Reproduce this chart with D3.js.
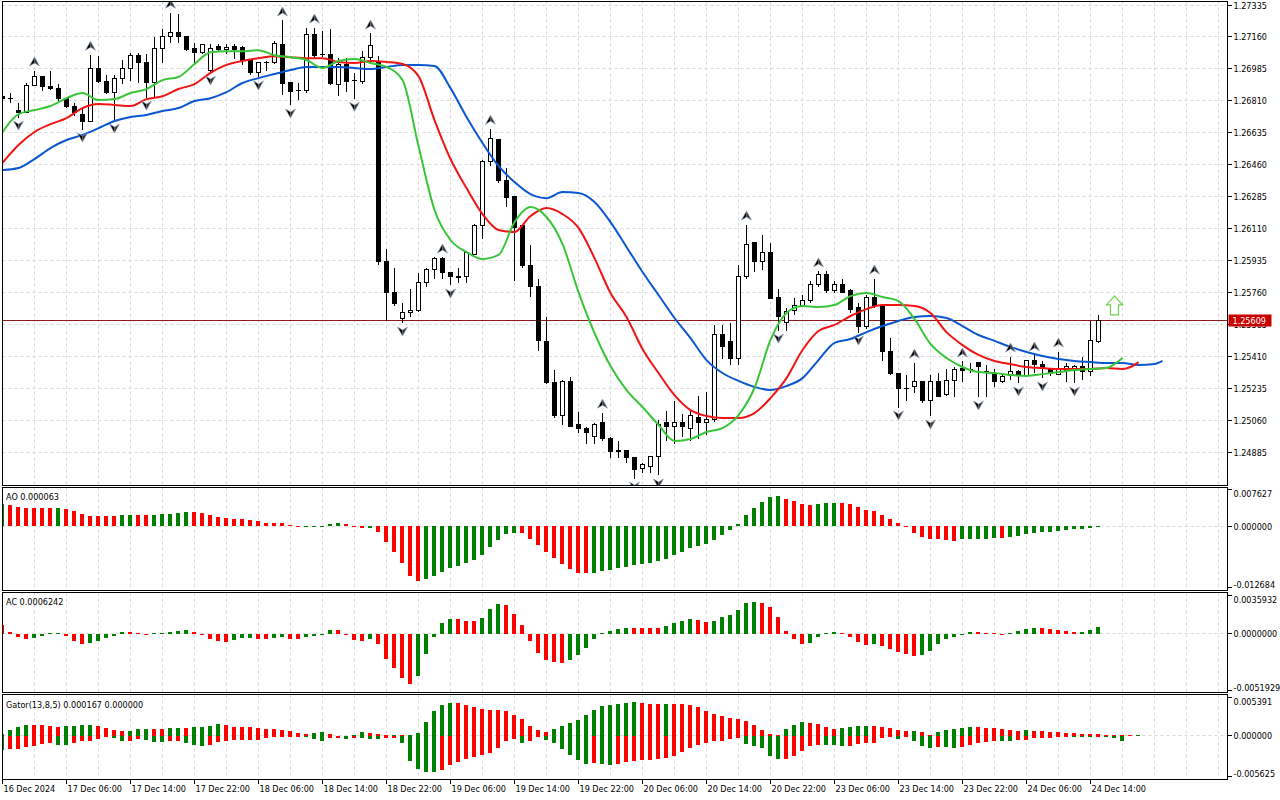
<!DOCTYPE html>
<html><head><meta charset="utf-8">
<script src="https://cdn.jsdelivr.net/npm/d3@7/dist/d3.min.js"></script>
<style>
html,body{margin:0;padding:0;background:#fff}
svg{display:block}
text{font-family:'DejaVu Sans Condensed','DejaVu Sans',sans-serif;font-stretch:condensed;font-size:9px;fill:#000}
</style>
</head><body>
<svg id="chart" width="1280" height="800"></svg>
<script>
// ---------- DATA (prices in points = price * 100000) ----------
// [open, high, low, close] per H1 bar
const candles = [
[126836,126847,126815,126825],[126826,126858,126799,126825],[126760,126804,126722,126749],[126749,126913,126744,126897],
[126897,126979,126896,126941],[126941,126942,126869,126891],[126891,126974,126875,126880],[126880,126908,126815,126825],
[126825,126831,126776,126777],[126777,126804,126733,126744],[126738,126777,126656,126700],[126700,127066,126699,126985],
[126985,127060,126913,126919],[126919,126952,126853,126858],[126858,126952,126705,126935],[126935,127039,126908,126990],
[126990,127077,126924,127060],[127060,127077,126913,127018],[127018,127071,126831,126913],[126913,127160,126831,127099],
[127099,127209,127018,127160],[127160,127296,127132,127187],[127187,127290,127132,127160],[127160,127161,127088,127094],
[127099,127132,127023,127077],[127077,127127,127071,127121],[126974,127127,126968,127099],[127110,127127,127088,127094],
[127094,127127,127071,127105],[127110,127127,127044,127094],[127105,127116,127007,127034],[127034,127044,126957,126963],
[126963,127023,126941,127018],[127023,127034,126979,127022],[127018,127143,127017,127127],[127121,127253,126847,126908],
[126913,126914,126788,126864],[126869,126913,126820,126868],[126869,127214,126858,127171],[127171,127214,127049,127060],
[127066,127198,127055,127065],[127066,127204,126902,126908],[126902,127049,126842,127007],[127007,127049,126864,126919],
[126924,126963,126825,126923],[126919,127088,126908,127049],[127049,127182,127034,127116],[127023,127060,125917,125934],
[125934,126000,125611,125759],[125759,125901,125693,125704],[125622,125709,125595,125650],[125650,125786,125628,125661],
[125661,125869,125660,125814],[125814,125896,125797,125890],[125890,125956,125841,125950],[125950,125956,125836,125869],
[125869,125874,125803,125847],[125847,125896,125819,125846],[125847,125994,125819,125978],[125972,126142,125971,126131],
[126131,126487,126055,126476],[126476,126661,126454,126607],[126601,126602,126361,126377],[126377,126443,126235,126284],
[126289,126295,125830,126120],[126131,126136,125901,125912],[125912,126022,125738,125792],[125797,125841,125447,125497],
[125491,125628,125261,125267],[125267,125343,125075,125091],[125091,125283,125037,125272],[125272,125300,125026,125031],
[125037,125113,124993,125020],[125020,125026,124938,124998],[124971,125053,124938,125042],[125053,125107,124954,124960],
[124960,124971,124856,124889],[124895,124954,124856,124894],[124895,124900,124829,124856],[124861,124862,124746,124795],
[124801,124829,124774,124818],[124812,124867,124774,124862],[124862,125069,124763,125042],[125048,125118,124954,125026],
[125026,125168,124938,125053],[125048,125102,124971,125026],[125020,125118,124954,125086],[125080,125200,124965,125048],
[125053,125222,124982,125069],[125064,125589,125058,125534],[125534,125589,125398,125464],[125491,125600,125370,125403],
[125403,125917,125370,125847],[125847,126136,125841,126027],[126033,126038,125874,125934],[125934,126077,125885,125978],
[125978,126033,125730,125731],[125737,125781,125556,125633],[125600,125677,125551,125655],[125661,125737,125639,125693],
[125693,125748,125688,125720],[125720,125830,125709,125803],[125803,125880,125792,125858],[125858,125880,125764,125770],
[125770,125825,125759,125808],[125808,125836,125759,125764],[125775,125781,125650,125671],[125682,125709,125545,125578],
[125573,125753,125567,125737],[125737,125841,125682,125693],[125693,125698,125387,125441],[125441,125518,125315,125321],
[125321,125322,125135,125239],[125239,125315,125173,125238],[125245,125381,125212,125272],[125272,125273,125162,125168],
[125168,125315,125086,125272],[125272,125326,125190,125195],[125206,125348,125200,125278],[125278,125354,125195,125343],
[125348,125387,125272,125337],[125343,125376,125326,125342],[125376,125377,125190,125354],[125332,125370,125190,125326],
[125321,125348,125245,125272],[125272,125326,125271,125300],[125310,125414,125283,125332],[125332,125343,125267,125310],
[125310,125392,125300,125387],[125387,125420,125326,125365],[125370,125387,125294,125348],[125343,125348,125310,125321],
[125315,125441,125314,125348],[125337,125376,125272,125354],[125343,125365,125267,125359],[125354,125409,125283,125332],
[125332,125606,125305,125497],[125491,125644,125486,125609]
];
// Alligator lines: [bar, value]
const jaw = [[0,126432],[2,126443],[4,126492],[6,126552],[8,126596],[10,126624],[12,126661],[14,126700],[16,126722],[18,126733],[20,126755],[22,126771],[24,126810],[26,126825],[28,126858],[30,126908],[32,126935],[34,126957],[36,126979],[38,126996],[40,126996],[42,126996],[44,126990],[46,126985],[48,126996],[50,127007],[52,127007],[54,127001],[56,126880],[58,126722],[60,126580],[62,126454],[64,126366],[66,126300],[68,126278],[70,126311],[72,126306],[74,126257],[76,126147],[78,126011],[80,125874],[82,125748],[84,125622],[86,125512],[88,125392],[90,125321],[92,125278],[94,125245],[96,125228],[98,125250],[100,125293],[102,125392],[104,125486],[106,125507],[108,125545],[110,125578],[112,125606],[114,125628],[116,125633],[118,125622],[120,125578],[122,125529],[124,125497],[126,125464],[128,125436],[130,125414],[132,125398],[134,125387],[136,125381],[138,125376],[140,125376],[142,125365],[144,125370],[145,125387]];
const teeth = [[0,126471],[2,126569],[4,126640],[6,126683],[8,126716],[10,126771],[12,126793],[14,126788],[16,126782],[18,126820],[20,126836],[22,126875],[24,126902],[26,126963],[28,127007],[30,127029],[32,127044],[34,127055],[36,127049],[38,127044],[40,127044],[42,127023],[44,127018],[46,127029],[48,127023],[50,127012],[52,126946],[54,126705],[56,126492],[58,126333],[60,126191],[62,126104],[64,126093],[66,126180],[68,126224],[70,126191],[72,126115],[74,125950],[76,125759],[78,125628],[80,125453],[82,125321],[84,125200],[86,125118],[88,125086],[90,125075],[92,125075],[94,125102],[96,125184],[98,125293],[100,125447],[102,125551],[104,125584],[106,125633],[108,125671],[110,125693],[112,125693],[114,125688],[116,125650],[118,125545],[120,125474],[122,125420],[124,125387],[126,125370],[128,125354],[130,125348],[132,125343],[134,125343],[136,125343],[138,125348],[140,125343],[141,125354],[142,125381]];
const lips = [[0,126640],[2,126738],[4,126760],[6,126782],[8,126825],[10,126853],[12,126815],[14,126820],[16,126853],[18,126875],[20,126924],[22,126941],[24,127012],[26,127077],[28,127082],[30,127082],[32,127088],[34,127060],[36,127049],[38,127034],[40,126990],[42,127029],[44,127039],[46,127018],[48,126996],[50,126924],[52,126563],[54,126213],[56,126049],[58,125983],[60,125945],[62,125967],[64,126147],[66,126230],[68,126175],[70,126027],[72,125764],[74,125540],[76,125359],[78,125228],[80,125135],[82,125037],[84,124949],[86,124960],[88,124998],[90,125020],[92,125091],[94,125239],[96,125502],[98,125650],[100,125688],[102,125682],[104,125693],[106,125742],[108,125759],[110,125737],[112,125715],[114,125617],[116,125480],[118,125403],[120,125354],[122,125326],[124,125321],[126,125310],[128,125305],[130,125315],[132,125326],[134,125337],[136,125343],[138,125348],[139,125370],[140,125403]];
const fractalUp = [4,11,21,35,39,46,55,61,75,93,102,109,114,120,126,129,132];
const fractalDown = [2,10,14,18,26,32,36,44,50,56,79,82,97,107,112,116,122,127,130,134];
const lastPrice = 125609;
const signalArrow = {bar:139, price:125743};

const aoValues = [0.00454,0.0044,0.00398,0.00384,0.00377,0.00375,0.00373,0.00377,0.00349,0.00314,0.00251,0.00209,0.00207,0.00205,0.00203,0.0023,0.00232,0.0023,0.00228,0.00231,0.00251,0.00253,0.00272,0.00293,0.00291,0.00272,0.0023,0.00188,0.00168,0.00147,0.00145,0.00126,0.00112,0.00063,0.00061,0.00059,0.00021,0.00005,0.00007,0.00009,0.00011,0.00042,0.00063,0.00042,0.00008,-0.00035,-0.00033,-0.00119,-0.00328,-0.00537,-0.00768,-0.0104,-0.01145,-0.0111,-0.0104,-0.00963,-0.00873,-0.00831,-0.00775,-0.00712,-0.00607,-0.0044,-0.00293,-0.00161,-0.0014,-0.00142,-0.00272,-0.00398,-0.00544,-0.00663,-0.00796,-0.009,-0.0097,-0.00984,-0.0097,-0.00942,-0.00921,-0.00873,-0.00852,-0.00817,-0.00796,-0.00775,-0.00733,-0.00691,-0.00607,-0.00544,-0.00468,-0.00426,-0.00377,-0.00293,-0.00188,-0.00084,0.00042,0.0023,0.0037,0.00503,0.006,0.00628,0.00565,0.00524,0.00461,0.0044,0.0046,0.00475,0.00476,0.00474,0.00454,0.00398,0.00335,0.00314,0.0023,0.00147,0.00063,-0.00028,-0.0014,-0.00223,-0.00279,-0.00281,-0.00283,-0.00307,-0.00279,-0.00265,-0.00263,-0.00261,-0.00244,-0.00246,-0.00237,-0.00202,-0.00175,-0.0014,-0.00119,-0.00117,-0.00098,-0.00077,-0.0007,-0.00056,-0.00035,0.000063];
const aoPrev = 0.0044;
const acValues = [0.0008,0.00018,-0.00025,-0.00043,-0.00037,-0.00015,0.00004,0.00006,-0.00015,-0.00061,-0.00089,-0.00086,-0.00064,-0.00037,-0.00015,0.00018,0.00017,0.00006,0.00001,0.00005,0.00012,0.00018,0.00028,0.00037,0.00018,-0.00006,-0.00043,-0.00064,-0.00074,-0.00055,-0.00037,-0.00036,-0.00046,-0.00047,-0.00037,-0.00025,-0.00046,-0.00047,-0.00028,-0.00015,0.00003,0.00037,0.00035,0.00002,-0.00052,-0.00061,-0.00046,-0.00089,-0.00227,-0.00319,-0.00411,-0.00467,-0.00387,-0.00181,-0.00025,0.00101,0.00138,0.00137,0.0012,0.00119,0.00147,0.0023,0.00276,0.00267,0.00184,0.00083,-0.00064,-0.00175,-0.00239,-0.00258,-0.00267,-0.00239,-0.00193,-0.00129,-0.00046,0.00009,0.00028,0.00046,0.00055,0.00054,0.00053,0.00052,0.00051,0.00074,0.00101,0.0012,0.00138,0.00129,0.0011,0.0012,0.00157,0.00175,0.00221,0.00286,0.00295,0.00285,0.00249,0.00157,0.00028,-0.00046,-0.00092,-0.00083,-0.00028,0.00005,0.00018,0.00009,-0.00028,-0.00074,-0.00101,-0.00092,-0.0011,-0.00138,-0.00166,-0.00184,-0.00203,-0.00193,-0.00157,-0.00092,-0.00046,-0.00028,-0.00006,0.00018,0.00017,0.00009,0.00008,-0.00003,0.00009,0.00028,0.00046,0.00055,0.00054,0.00046,0.00037,0.00028,0.00018,0.00019,0.00037,0.000624];
const acPrev = 0.0012;
const gatorUpper = [0.00033,0.00079,0.00121,0.00153,0.00152,0.00151,0.0014,0.00121,0.0014,0.00141,0.00153,0.00155,0.0014,0.00107,0.00088,0.00065,0.00066,0.00098,0.00099,0.00097,0.00096,0.00107,0.00108,0.00107,0.00121,0.0013,0.0014,0.00167,0.00153,0.0013,0.00129,0.00121,0.00107,0.00098,0.00097,0.00079,0.00065,0.00047,0.00033,0.00037,0.00056,0.00028,0.00002,0.00001,0.00019,0.00051,0.00037,0.00028,0.00014,0.00015,0.0001,0.00012,0.00047,0.00195,0.00344,0.00428,0.00456,0.00455,0.00428,0.004,0.00372,0.00358,0.00357,0.00344,0.00288,0.00233,0.00135,0.00079,0.00051,0.00093,0.00135,0.00181,0.00219,0.00288,0.00358,0.00414,0.00428,0.00442,0.00456,0.0047,0.00456,0.00446,0.00437,0.00442,0.00441,0.0044,0.00428,0.004,0.00344,0.00302,0.00274,0.00246,0.00233,0.00205,0.00149,0.00079,0.00023,0.00009,0.00093,0.00149,0.00191,0.00181,0.00163,0.00121,0.00093,0.00107,0.00121,0.00135,0.0014,0.00135,0.00121,0.00107,0.00079,0.00065,0.0007,0.00051,0.00009,0.00051,0.00079,0.00093,0.00107,0.00121,0.0012,0.00116,0.00107,0.00093,0.00079,0.00074,0.00079,0.00074,0.00065,0.0006,0.00051,0.00047,0.00037,0.00033,0.00028,0.00023,0.00019,0.00017,0.00014,0.00012,0.000167];
const gatorLower = [-0.002,-0.00186,-0.00185,-0.00153,-0.0014,-0.00112,-0.00098,-0.00126,-0.00127,-0.00098,-0.0007,-0.00069,-0.00042,-0.00009,-0.00028,-0.0007,-0.00069,-0.00042,-0.00056,-0.00084,-0.00085,-0.0007,-0.00069,-0.00098,-0.00126,-0.0014,-0.00121,-0.00084,-0.0007,-0.00056,-0.00055,-0.00054,-0.00053,-0.00028,-0.00014,-0.00013,-0.00012,-0.00011,-0.00014,-0.00037,-0.0007,-0.00028,-0.00023,-0.00042,-0.00023,-0.00028,-0.00037,-0.00042,-0.00028,-0.00023,-0.00098,-0.00349,-0.0046,-0.00502,-0.00503,-0.00465,-0.00405,-0.00353,-0.00312,-0.00293,-0.00265,-0.00237,-0.00172,-0.0007,-0.00047,-0.00098,-0.0007,-0.00014,-0.00056,-0.00098,-0.00181,-0.00265,-0.00339,-0.00391,-0.00377,-0.00391,-0.00405,-0.00391,-0.00353,-0.00344,-0.00339,-0.00326,-0.00325,-0.00307,-0.00279,-0.00223,-0.00167,-0.00126,-0.00098,-0.0007,-0.00069,-0.00042,-0.00028,-0.00112,-0.0014,-0.00167,-0.00279,-0.00321,-0.0032,-0.00279,-0.00209,-0.0014,-0.00126,-0.00127,-0.00128,-0.0014,-0.00139,-0.00112,-0.00098,-0.00097,-0.00028,-0.00005,-0.00042,-0.00002,-0.0007,-0.0014,-0.00167,-0.00153,-0.00158,-0.00167,-0.00153,-0.00126,-0.00098,-0.00084,-0.0007,-0.00071,-0.00072,-0.00056,-0.00055,-0.00028,-0.00027,-0.00026,-0.00014,-0.00013,-0.00014,-0.00015,-0.00016,-0.00013,-0.00015,-0.00028,-0.0007];
const gatorUpperPrev = 0.0002, gatorLowerPrev = -0.0019;

const priceTicks = [124885,125060,125235,125410,125585,125760,125935,126110,126285,126460,126635,126810,126985,127160,127335];
const priceTickLabels = ["1.24885","1.25060","1.25235","1.25410","1.25585","1.25760","1.25935","1.26110","1.26285","1.26460","1.26635","1.26810","1.26985","1.27160","1.27335"];
const timeBars = [0,8,16,24,32,40,48,56,64,72,80,88,96,104,112,120,128,136];
const timeLabels = ["16 Dec 2024","17 Dec 06:00","17 Dec 14:00","17 Dec 22:00","18 Dec 06:00","18 Dec 14:00","18 Dec 22:00","19 Dec 06:00","19 Dec 14:00","19 Dec 22:00","20 Dec 06:00","20 Dec 14:00","20 Dec 22:00","23 Dec 06:00","23 Dec 14:00","23 Dec 22:00","24 Dec 06:00","24 Dec 14:00"];
const aoAxis = [0.007627, 0, -0.012684], aoAxisLabels = ["0.007627","0.000000","-0.012684"];
const acAxis = [0.0035932, 0, -0.0051929], acAxisLabels = ["0.0035932","0.0000000","-0.0051929"];
const gatorAxis = [0.005391, 0, -0.005625], gatorAxisLabels = ["0.005391","0.000000","-0.005625"];
const aoTitle = "AO 0.000063", acTitle = "AC 0.0006242", gatorTitle = "Gator(13,8,5) 0.000167 0.000000";

// ---------- RENDER ----------
const svg = d3.select('#chart');
const LEFT = 2.5, RIGHT = 1227.5;
const GREEN = '#008000', RED = '#ff0000', GRID = '#d9d9d9';
const x = d3.scaleLinear().domain([0, 145]).range([2.5, 2.5 + 8 * 145]);
const yMain = d3.scaleLinear().domain([124885, 127335]).range([452.7, 5]);
const yAO = d3.scaleLinear().domain([aoAxis[2], aoAxis[0]]).range([587, 489.5]);
const yAC = d3.scaleLinear().domain([acAxis[2], acAxis[0]]).range([690, 595]);
const yGt = d3.scaleLinear().domain([gatorAxis[2], gatorAxis[0]]).range([776.6, 697]);
const crisp = v => Math.round(v - 0.5) + 0.5;

const panels = [
  {id:'main', t:1.5, b:485.5},
  {id:'ao', t:487.5, b:590.5},
  {id:'ac', t:592.5, b:692.5},
  {id:'gt', t:694.5, b:779.5}
];
const defs = svg.append('defs');
panels.forEach(p => {
  defs.append('clipPath').attr('id', 'clip-' + p.id).append('rect')
    .attr('x', LEFT + 0.5).attr('y', p.t + 0.5).attr('width', RIGHT - LEFT - 1).attr('height', p.b - p.t - 1);
});
const layer = {};
panels.forEach(p => { layer[p.id] = svg.append('g').attr('clip-path', `url(#clip-${p.id})`); });

// vertical grid
const gridBars = d3.range(4, 153, 4);
panels.forEach(p => {
  layer[p.id].selectAll('line.vg').data(gridBars).join('line').attr('class','vg')
    .attr('x1', d => x(d)).attr('x2', d => x(d)).attr('y1', p.t).attr('y2', p.b)
    .attr('stroke', GRID).attr('stroke-dasharray', '3,3');
});
// horizontal grid main
layer.main.selectAll('line.hg').data(priceTicks).join('line').attr('class','hg')
  .attr('x1', LEFT).attr('x2', RIGHT).attr('y1', d => crisp(yMain(d))).attr('y2', d => crisp(yMain(d)))
  .attr('stroke', GRID).attr('stroke-dasharray', '3,3');
// zero lines in sub panels
[['ao', yAO], ['ac', yAC], ['gt', yGt]].forEach(([id, sc]) => {
  layer[id].append('line').attr('x1', LEFT).attr('x2', RIGHT)
    .attr('y1', crisp(sc(0))).attr('y2', crisp(sc(0)))
    .attr('stroke', GRID).attr('stroke-dasharray', '3,3');
});

// price line
layer.main.append('line').attr('x1', LEFT).attr('x2', RIGHT)
  .attr('y1', crisp(yMain(lastPrice))).attr('y2', crisp(yMain(lastPrice)))
  .attr('stroke', '#8b1a1a').attr('stroke-width', 1);

// candles
const cg = layer.main.append('g').attr('shape-rendering', 'crispEdges');
candles.forEach((c, i) => {
  const [o, h, l, cl] = c;
  const xc = x(i);
  cg.append('line').attr('x1', xc).attr('x2', xc)
    .attr('y1', crisp(yMain(h))).attr('y2', crisp(yMain(l))).attr('stroke', '#000');
  const top = crisp(yMain(Math.max(o, cl))), bot = crisp(yMain(Math.min(o, cl)));
  if (bot - top < 1) {
    cg.append('line').attr('x1', xc - 2.5).attr('x2', xc + 2.5).attr('y1', top).attr('y2', top).attr('stroke', '#000');
  } else {
    cg.append('rect').attr('x', xc - 2).attr('y', top).attr('width', 4).attr('height', bot - top)
      .attr('fill', cl >= o ? '#fff' : '#000').attr('stroke', '#000');
  }
});

// alligator
const line = d3.line().x(d => x(d[0])).y(d => yMain(d[1])).curve(d3.curveMonotoneX);
[[jaw, '#0b57d0'], [teeth, '#f01414'], [lips, '#38c638']].forEach(([data, col]) => {
  layer.main.append('path').attr('d', line(data)).attr('fill', 'none')
    .attr('stroke', col).attr('stroke-width', 2).attr('stroke-linejoin', 'round');
});

// fractals
const fg = layer.main.append('g');
fractalUp.forEach(i => {
  const g = fg.append('g').attr('transform', `translate(${x(i)},${yMain(candles[i][1]) - 4})`);
  g.append('path').attr('d', 'M0,-9L-5,0L0,-3Z').attr('fill', '#000');
  g.append('path').attr('d', 'M0,-9L5,0L0,-3Z').attr('fill', '#3a3a3a');
  g.append('path').attr('d', 'M0,-9L5,0L0,-3L-5,0Z').attr('fill', 'none').attr('stroke', '#8fa3b8').attr('stroke-width', 0.6);
});
fractalDown.forEach(i => {
  const g = fg.append('g').attr('transform', `translate(${x(i)},${yMain(candles[i][2]) + 4})`);
  g.append('path').attr('d', 'M0,9L-5,0L0,3Z').attr('fill', '#000');
  g.append('path').attr('d', 'M0,9L5,0L0,3Z').attr('fill', '#3a3a3a');
  g.append('path').attr('d', 'M0,9L5,0L0,3L-5,0Z').attr('fill', 'none').attr('stroke', '#8fa3b8').attr('stroke-width', 0.6);
});

// signal arrow
layer.main.append('path')
  .attr('transform', `translate(${x(signalArrow.bar)},${yMain(signalArrow.price)})`)
  .attr('d', 'M0,0L8,9L4,9L4,19L-4,19L-4,9L-8,9Z')
  .attr('fill', '#fff').attr('stroke', '#6fd04a').attr('stroke-width', 1.2);

// histograms
function hist(g, values, scale, prev, useAbs) {
  const z = scale(0);
  const gg = g.append('g').attr('shape-rendering', 'crispEdges');
  values.forEach((v, i) => {
    const p = i === 0 ? prev : values[i - 1];
    const up = useAbs ? Math.abs(v) > Math.abs(p) : v > p;
    const y1 = scale(v);
    gg.append('rect').attr('x', x(i) - 2.5).attr('width', 4)
      .attr('y', Math.round(Math.min(y1, z))).attr('height', Math.max(1, Math.round(Math.abs(y1 - z))))
      .attr('fill', up ? GREEN : RED);
  });
}
hist(layer.ao, aoValues, yAO, aoPrev, false);
hist(layer.ac, acValues, yAC, acPrev, false);
hist(layer.gt, gatorUpper, yGt, gatorUpperPrev, true);
hist(layer.gt, gatorLower, yGt, gatorLowerPrev, true);

// frames
panels.forEach(p => {
  svg.append('rect').attr('x', LEFT).attr('y', p.t).attr('width', RIGHT - LEFT).attr('height', p.b - p.t)
    .attr('fill', 'none').attr('stroke', '#000').attr('shape-rendering', 'crispEdges');
});

// price axis
const ax = svg.append('g');
priceTicks.forEach((v, k) => {
  const yy = crisp(yMain(v));
  ax.append('line').attr('x1', RIGHT).attr('x2', RIGHT + 4).attr('y1', yy).attr('y2', yy).attr('stroke', '#000').attr('shape-rendering','crispEdges');
  ax.append('text').attr('x', RIGHT + 6).attr('y', yy + 3.5).text(priceTickLabels[k]);
});
// last price tag
const lpY = crisp(yMain(lastPrice));
ax.append('rect').attr('x', RIGHT + 1).attr('y', lpY - 6).attr('width', 43).attr('height', 12).attr('fill', '#c80000');
ax.append('text').attr('x', RIGHT + 5).attr('y', lpY + 3.5).style('fill', '#fff').text((lastPrice / 100000).toFixed(5));

// sub axes
function subAxis(vals, labels, scale) {
  vals.forEach((v, k) => {
    const yy = crisp(scale(v));
    ax.append('line').attr('x1', RIGHT).attr('x2', RIGHT + 4).attr('y1', yy).attr('y2', yy).attr('stroke', '#000').attr('shape-rendering','crispEdges');
    const off = k === 0 ? 7 : (k === 1 ? 3.5 : 0.5);
    ax.append('text').attr('x', RIGHT + 6).attr('y', yy + off).text(labels[k]);
  });
}
subAxis(aoAxis, aoAxisLabels, yAO);
subAxis(acAxis, acAxisLabels, yAC);
subAxis(gatorAxis, gatorAxisLabels, yGt);

// titles
svg.append('text').attr('x', 6).attr('y', 500).text(aoTitle);
svg.append('text').attr('x', 6).attr('y', 605).text(acTitle);
svg.append('text').attr('x', 6).attr('y', 708).text(gatorTitle);

// time axis
timeBars.forEach((b, k) => {
  const xx = x(b);
  ax.append('line').attr('x1', xx).attr('x2', xx).attr('y1', 779.5).attr('y2', 784).attr('stroke', '#000').attr('shape-rendering','crispEdges');
  ax.append('text').attr('x', xx + 1).attr('y', 792).text(timeLabels[k]);
});
</script>
</body></html>
